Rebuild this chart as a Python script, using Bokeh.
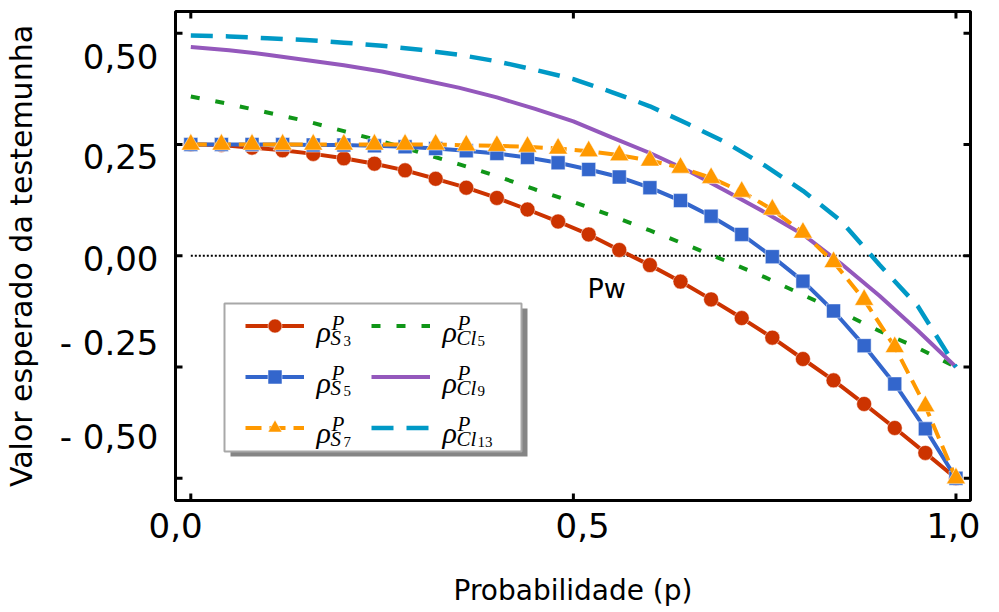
from bokeh.plotting import figure
from bokeh.models import Range1d, FixedTicker, Legend, LegendItem, Label
from bokeh.embed import file_html
from bokeh.resources import INLINE

# ---------------- data ----------------
p_markers = [round(0.04 * i, 2) for i in range(26)]
s3 = [0.250, 0.249, 0.243, 0.237, 0.229, 0.219, 0.207, 0.192, 0.173, 0.153,
      0.130, 0.104, 0.077, 0.048, 0.013, -0.021, -0.058, -0.098, -0.140, -0.184,
      -0.232, -0.280, -0.333, -0.387, -0.443, -0.500]
s5 = [0.250, 0.250, 0.250, 0.250, 0.249, 0.249, 0.247, 0.245, 0.241, 0.236,
      0.230, 0.221, 0.209, 0.194, 0.177, 0.153, 0.124, 0.089, 0.048, -0.002,
      -0.057, -0.124, -0.202, -0.288, -0.389, -0.500]
s7 = [0.250, 0.250, 0.250, 0.250, 0.250, 0.250, 0.250, 0.250, 0.250, 0.248,
      0.247, 0.245, 0.241, 0.235, 0.226, 0.214, 0.198, 0.175, 0.144, 0.104,
      0.052, -0.014, -0.099, -0.205, -0.338, -0.500]

p_lines = [round(0.05 * i, 2) for i in range(21)]
cl5 = [0.358, 0.341, 0.322, 0.303, 0.280, 0.257, 0.232, 0.206, 0.179, 0.149,
       0.121, 0.090, 0.057, 0.023, -0.012, -0.048, -0.088, -0.127, -0.169,
       -0.207, -0.250]
cl9 = [0.469, 0.462, 0.452, 0.440, 0.428, 0.414, 0.396, 0.378, 0.356, 0.330,
       0.302, 0.266, 0.231, 0.191, 0.145, 0.098, 0.048, -0.018, -0.090,
       -0.168, -0.250]
cl13 = [0.495, 0.493, 0.489, 0.485, 0.479, 0.472, 0.463, 0.452, 0.437, 0.418,
        0.397, 0.368, 0.336, 0.296, 0.254, 0.203, 0.146, 0.078, -0.020,
        -0.113, -0.250]

zero_x = [0.0, 1.02]
zero_y = [0.0, 0.0]

x_tick_values = [0.0, 0.5, 1.0]
y_tick_values = [0.5, 0.25, 0.0, -0.25, -0.5]
x_tick_labels = ["0,0", "0,5", "1,0"]
y_tick_labels = ["0,50", "0,25", "0,00", "- 0.25", "- 0,50"]
# where the labels are printed (they sit off their ticks in the original)
x_label_pos = [-0.0199, 0.512, 1.0098]
y_label_pos = [0.446, 0.222, -0.007, -0.196, -0.408]

# ---------------- figure ----------------
X0, X1 = -0.02, 1.019
Y0, Y1 = -0.55, 0.549
FW, FH = 795, 489
FL, FT = 178, 11   # page position of frame's top-left corner


def dx(px):
    return X0 + (px - FL) * (X1 - X0) / FW


def dy(py):
    return Y1 - (py - FT) * (Y1 - Y0) / FH


RED, BLUE, ORANGE = "#CC3300", "#3366CC", "#FF9900"
GREEN, PURPLE, CYAN = "#109618", "#9458BC", "#0099C6"

p = figure(frame_width=FW, frame_height=FH,
           x_range=Range1d(X0, X1), y_range=Range1d(Y0, Y1),
           output_backend="svg", toolbar_location=None,
           min_border_left=173, min_border_top=11,
           min_border_right=10, min_border_bottom=0)
p.xgrid.visible = False
p.ygrid.visible = False
p.outline_line_color = "black"
p.outline_line_width = 3
p.outline_line_alpha = 1.0
p.background_fill_color = "white"
p.border_fill_color = "white"

for ax in (p.xaxis[0], p.yaxis[0]):
    ax.major_tick_line_color = None
    ax.minor_tick_line_color = None
    ax.axis_line_color = None
    ax.major_label_text_font = "DejaVu Sans"
    ax.major_label_text_font_size = "34px"
    ax.major_label_text_color = "black"
    ax.axis_label_text_font = "DejaVu Sans"
    ax.axis_label_text_font_style = "normal"
    ax.axis_label_text_color = "black"

p.xaxis.ticker = FixedTicker(ticks=x_label_pos)
p.xaxis.major_label_overrides = {v: t for v, t in zip(x_label_pos, x_tick_labels)}
p.xaxis.major_label_standoff = 6
p.xaxis.axis_label = "Probabilidade (p)"
p.xaxis.axis_label_text_font_size = "28px"
p.xaxis.axis_label_standoff = 33

p.yaxis.ticker = FixedTicker(ticks=y_label_pos)
p.yaxis.major_label_overrides = {v: t for v, t in zip(y_label_pos, y_tick_labels)}
p.yaxis.major_label_standoff = 11
p.yaxis.axis_label = "Valor esperado da testemunha"
p.yaxis.axis_label_text_font_size = "30px"
p.yaxis.axis_label_standoff = 18

# inward ticks on all four sides
tlx = 7 * (X1 - X0) / FW
tly = 7 * (Y1 - Y0) / FH
ny, nx = len(y_tick_values), len(x_tick_values)
p.segment(x0=[X0] * ny, x1=[X0 + tlx] * ny, y0=y_tick_values, y1=y_tick_values,
          line_color="black", line_width=3)
p.segment(x0=[X1 - tlx] * ny, x1=[X1] * ny, y0=y_tick_values, y1=y_tick_values,
          line_color="black", line_width=3)
p.segment(x0=x_tick_values, x1=x_tick_values, y0=[Y0] * nx, y1=[Y0 + tly] * nx,
          line_color="black", line_width=3)
p.segment(x0=x_tick_values, x1=x_tick_values, y0=[Y1 - tly] * nx, y1=[Y1] * nx,
          line_color="black", line_width=3)

# zero line
p.line(zero_x, zero_y, line_color="black", line_width=2, line_dash="2 2")

# legend frame with shadow
p.quad(left=[dx(233)], right=[dx(530)], top=[dy(308)], bottom=[dy(456)],
       fill_color="#858585", line_color=None)
p.quad(left=[dx(227)], right=[dx(524)], top=[dy(303)], bottom=[dy(451)],
       fill_color="white", line_color="#A8A8A8", line_width=2)

# curves
r_cl5 = p.line(p_lines, cl5, line_color=GREEN, line_width=4, line_dash="9 16")
r_cl9 = p.line(p_lines, cl9, line_color=PURPLE, line_width=4)
r_cl13 = p.line(p_lines, cl13, line_color=CYAN, line_width=4.5, line_dash="22 13")

r_s3l = p.line(p_markers, s3, line_color=RED, line_width=4)
r_s3m = p.scatter(p_markers, s3, marker="circle", size=15, fill_color=RED,
                  line_color="white", line_alpha=0.5, line_width=1)
r_s5l = p.line(p_markers, s5, line_color=BLUE, line_width=4)
r_s5m = p.scatter(p_markers, s5, marker="square", size=14, fill_color=BLUE,
                  line_color="white", line_alpha=0.5, line_width=1)
r_s7l = p.line(p_markers, s7, line_color=ORANGE, line_width=4, line_dash="16 8")
r_s7m = p.scatter(p_markers, s7, marker="triangle", size=19, fill_color=ORANGE,
                  line_color="white", line_alpha=0.5, line_width=1)

leg_kw = dict(orientation="vertical", glyph_width=59, glyph_height=35,
              label_height=35, label_width=10, label_standoff=0, spacing=16,
              padding=0, margin=0, border_line_color=None,
              background_fill_alpha=0.0, label_text_font_size="1px")
leg1 = Legend(items=[LegendItem(label=" ", renderers=[r_s3l, r_s3m]),
                     LegendItem(label=" ", renderers=[r_s5l, r_s5m]),
                     LegendItem(label=" ", renderers=[r_s7l, r_s7m])],
              location=(248 - FL, 500 - 445), **leg_kw)
leg2 = Legend(items=[LegendItem(label=" ", renderers=[r_cl5]),
                     LegendItem(label=" ", renderers=[r_cl9]),
                     LegendItem(label=" ", renderers=[r_cl13])],
              location=(374 - FL, 500 - 445), **leg_kw)
p.add_layout(leg1)
p.add_layout(leg2)

# legend texts: rho^P_{S_3} ...
legend_subs = [("S", "3"), ("S", "5"), ("S", "7"), ("Cl", "5"), ("Cl", "9"), ("Cl", "13")]
sub_w = {"S": 13, "Cl": 21}
for i, (sub, num) in enumerate(legend_subs):
    col, row = divmod(i, 3)
    xl = 319 + 126 * col
    base = 331 + 50.5 * row
    common = dict(text_font="Liberation Serif", text_color="black",
                  text_baseline="alphabetic", text_align="left")
    p.add_layout(Label(x=dx(xl), y=dy(base), text="ρ", text_font_size="30px",
                       text_font_style="italic", **common))
    p.add_layout(Label(x=dx(xl + 15), y=dy(base - 9), text="P", text_font_size="21px",
                       text_font_style="italic", **common))
    p.add_layout(Label(x=dx(xl + 14), y=dy(base + 6), text=sub, text_font_size="21px",
                       text_font_style="italic", **common))
    p.add_layout(Label(x=dx(xl + 14 + sub_w[sub]), y=dy(base + 9), text=num,
                       text_font_size="15px", text_font_style="normal", **common))

p.add_layout(Label(x=dx(590), y=dy(288), text="Pw", text_font="DejaVu Sans",
                   text_font_size="27px", text_color="black",
                   text_baseline="alphabetic", text_align="left"))

open("out.html", "w").write(file_html(p, INLINE))
